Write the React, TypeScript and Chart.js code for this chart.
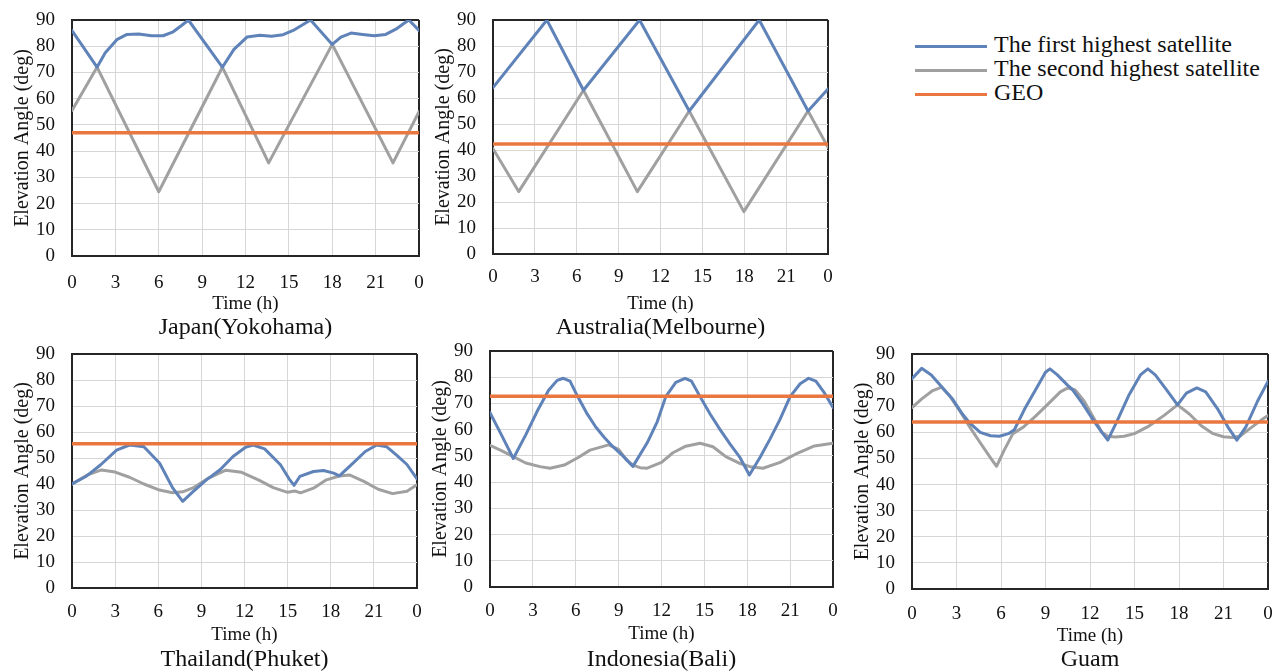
import React, { useEffect, useRef } from 'react';
import { Chart, registerables } from 'chart.js';

Chart.register(...registerables);

const FONT = "'Liberation Serif', 'Times New Roman', serif";
const BLUE = '#5F83B9';
const GRAY = '#A0A0A0';
const ORANGE = '#E9773F';
const GRID = '#D6D6D6';
const FRAME = '#262626';
const TEXT = '#111111';

const SERIES_NAMES = ['The first highest satellite', 'The second highest satellite', 'GEO'];
const X_TICK_LABELS = ['0', '3', '6', '9', '12', '15', '18', '21', '0'];
const Y_TITLE = 'Elevation Angle (deg)';
const X_TITLE = 'Time (h)';
const GEO_T = [0, 24];

// Japan (Yokohama)
const JAPAN_FIRST_T = [0, 1.73, 2.3, 3.1, 3.8, 4.6, 5.5, 6.3, 7.0, 7.6, 8.05, 10.4, 11.2, 12.1, 13.0, 13.8, 14.6, 15.3, 15.9, 16.5, 18.0, 18.6, 19.3, 20.1, 20.9, 21.7, 22.4, 22.9, 23.3, 24];
const JAPAN_FIRST_V = [86, 72, 77.5, 82.5, 84.5, 84.7, 84, 84, 85.5, 88, 90, 72, 78.8, 83.5, 84.2, 83.8, 84.4, 86, 88, 90, 80.7, 83.5, 85, 84.5, 84, 84.5, 86.5, 88.5, 90, 86];
const JAPAN_SECOND_T = [0, 1.73, 6.0, 10.4, 13.6, 18.0, 22.2, 24];
const JAPAN_SECOND_V = [55.5, 72, 24.5, 72, 35.5, 80.7, 35.5, 55];
const JAPAN_GEO_V = [47, 47];

// Australia (Melbourne)
const AUS_FIRST_T = [0, 3.86, 6.48, 10.5, 14.06, 19.07, 22.57, 24];
const AUS_FIRST_V = [64, 90, 63, 90, 55, 90, 55, 63.5];
const AUS_SECOND_T = [0, 1.84, 6.48, 10.34, 14.06, 17.97, 22.57, 24];
const AUS_SECOND_V = [40.5, 24, 63, 24, 55, 16.3, 55, 41];
const AUS_GEO_V = [42.3, 42.3];

// Thailand (Phuket)
const THAI_FIRST_T = [0, 1, 2, 3.1, 4.0, 5.0, 6.1, 7.0, 7.7, 8.4, 9.35, 10.3, 11.2, 12.1, 12.6, 13.4, 14.5, 15.1, 15.45, 15.85, 16.8, 17.5, 18.2, 18.6, 19.55, 20.4, 21.2, 21.9, 22.6, 23.3, 24];
const THAI_FIRST_V = [40, 43, 47.4, 53, 55, 54.3, 48, 38.5, 33.3, 37, 41.6, 45.5, 50.6, 54.2, 55, 53.5, 47.4, 42, 39.5, 42.9, 44.8, 45.2, 44.2, 43.1, 48, 52.5, 55, 54.3, 51, 47.5, 42];
const THAI_SECOND_T = [0, 1, 2.05, 3, 4, 5, 6, 7, 7.7, 8.5, 9.5, 10.7, 11.8, 13, 14, 15, 15.5, 15.9, 16.8, 17.7, 18.6, 19.3, 20.3, 21.3, 22.3, 23.3, 24];
const THAI_SECOND_V = [40, 43.3, 45.4, 44.6, 42.6, 40, 37.8, 36.6, 37, 38.7, 42.3, 45.3, 44.5, 41.5, 38.6, 36.8, 37.3, 36.6, 38.4, 41.6, 43.1, 43.5, 41, 38, 36.3, 37.2, 39.7];
const THAI_GEO_V = [55.5, 55.5];

// Indonesia (Bali)
const BALI_FIRST_T = [0, 0.8, 1.63, 2.5, 3.3, 4.1, 4.7, 5.13, 5.6, 6.1, 6.8, 7.4, 8.0, 8.6, 9.3, 10.0, 11.0, 11.7, 12.3, 13.0, 13.65, 14.1, 14.7, 15.4, 16.1, 16.8, 17.5, 18.15, 18.9, 19.6, 20.3, 21.0, 21.7, 22.3, 22.8, 23.4, 24];
const BALI_FIRST_V = [66.5, 58, 49, 58, 67, 75, 78.8, 79.6, 78.5, 73, 66, 61, 57, 53.5, 50, 46, 55, 63, 72.6, 78, 79.6, 78.5, 72.6, 66, 60, 54.5, 49.3, 42.7, 49.5, 56.5, 64, 72.6, 77.5, 79.6, 78.5, 74, 68.5];
const BALI_SECOND_T = [0, 0.8, 1.63, 2.5, 3.5, 4.2, 5.2, 6.2, 7.0, 8.3, 9.0, 9.56, 10.0, 10.5, 11.0, 12.0, 12.8, 13.7, 14.7, 15.6, 16.5, 17.4, 18.2, 19.1, 20.3, 21.5, 22.7, 24];
const BALI_SECOND_V = [54, 52, 49.7, 47.3, 45.9, 45.3, 46.5, 49.5, 52.2, 54.2, 52.5, 48.4, 46.5, 45.5, 45.3, 47.5, 51.2, 53.7, 54.8, 53.5, 49.7, 47.3, 45.9, 45.3, 47.5, 51, 53.8, 54.8];
const BALI_GEO_V = [72.7, 72.7];

// Guam
const GUAM_FIRST_T = [0, 0.65, 1.3, 2.0, 2.7, 3.4, 3.9, 4.6, 5.3, 5.9, 6.5, 6.9, 7.6, 8.4, 9.0, 9.3, 9.8, 10.5, 10.8, 11.5, 12.3, 12.8, 13.2, 13.8, 14.6, 15.4, 15.9, 16.4, 17.2, 17.9, 18.5, 19.2, 19.8, 20.6, 21.3, 21.9, 22.5, 23.3, 24];
const GUAM_FIRST_V = [80.5, 84.5, 82, 77.5, 73, 67, 63.5, 60, 58.7, 58.5, 59.5, 61, 69, 77, 83, 84.3, 82, 78, 76.5, 71, 64, 60, 57, 64, 74, 82, 84.3, 82, 76, 70.5, 75, 77, 75.5, 69, 62, 57, 62, 72, 79.5];
const GUAM_SECOND_T = [0, 0.7, 1.4, 2.0, 2.6, 3.3, 3.9, 4.6, 5.2, 5.7, 6.2, 6.8, 7.5, 8.3, 9.2, 10.0, 10.5, 11.0, 11.6, 12.3, 12.8, 13.2, 13.7, 14.3, 15.0, 16.0, 17.0, 17.9, 18.7, 19.5, 20.3, 21.0, 21.6, 22.1, 22.8, 23.5, 24];
const GUAM_SECOND_V = [69.5, 73, 76, 77.3, 73.5, 67.5, 62, 56, 51, 47, 53, 59.5, 62, 66, 71, 75.5, 77, 76.2, 72, 65, 60, 58.5, 58.2, 58.5, 59.5, 62.5, 66.5, 70.5, 67, 62.5, 59.5, 58.3, 58, 58.5, 61.5, 64.5, 66.5];
const GUAM_GEO_V = [64, 64];

type Layout = { L: number; T: number; R: number; B: number; tickY: number; timeY: number; subY: number; padR: number };
type PanelCfg = {
  title: string;
  firstT: number[]; firstV: number[];
  secondT: number[]; secondV: number[];
  geoV: number[];
  layout: Layout;
};

const PANELS: PanelCfg[] = [
  { title: 'Japan(Yokohama)', firstT: JAPAN_FIRST_T, firstV: JAPAN_FIRST_V, secondT: JAPAN_SECOND_T, secondV: JAPAN_SECOND_V, geoV: JAPAN_GEO_V,
    layout: { L: 72, T: 20, R: 419, B: 256, tickY: 283, timeY: 304, subY: 328, padR: 12 } },
  { title: 'Australia(Melbourne)', firstT: AUS_FIRST_T, firstV: AUS_FIRST_V, secondT: AUS_SECOND_T, secondV: AUS_SECOND_V, geoV: AUS_GEO_V,
    layout: { L: 493, T: 20, R: 828, B: 254, tickY: 277, timeY: 304, subY: 328, padR: 12 } },
  { title: 'Thailand(Phuket)', firstT: THAI_FIRST_T, firstV: THAI_FIRST_V, secondT: THAI_SECOND_T, secondV: THAI_SECOND_V, geoV: THAI_GEO_V,
    layout: { L: 72, T: 354, R: 417, B: 588, tickY: 612, timeY: 635, subY: 660, padR: 12 } },
  { title: 'Indonesia(Bali)', firstT: BALI_FIRST_T, firstV: BALI_FIRST_V, secondT: BALI_SECOND_T, secondV: BALI_SECOND_V, geoV: BALI_GEO_V,
    layout: { L: 490, T: 351, R: 833, B: 587, tickY: 611, timeY: 634, subY: 660, padR: 12 } },
  { title: 'Guam', firstT: GUAM_FIRST_T, firstV: GUAM_FIRST_V, secondT: GUAM_SECOND_T, secondV: GUAM_SECOND_V, geoV: GUAM_GEO_V,
    layout: { L: 912, T: 354, R: 1268, B: 589, tickY: 614, timeY: 636, subY: 660, padR: 7 } },
];

const Y_W = 72;
const PAD_TOP = 12;
const PAD_BOTTOM = 2;
const TICK_SIZE = 19;
const XT_SIZE = 19;
const YT_SIZE = 20;
const SUB_SIZE = 24;

function pts(t: number[], v: number[]) {
  return t.map((x, i) => ({ x, y: v[i] }));
}

function geom(l: Layout) {
  const xH = Math.round(l.timeY + (XT_SIZE * 1.2) / 2 - l.B);
  const tickPad = Math.round(l.tickY - l.B - (TICK_SIZE * 1.2) / 2);
  const subPad = Math.max(0, Math.round(l.subY - (l.B + xH) - SUB_SIZE / 2));
  const width = Y_W + (l.R - l.L) + l.padR;
  const height = PAD_TOP + (l.B - l.T) + xH + subPad + SUB_SIZE + PAD_BOTTOM;
  return { xH, tickPad, subPad, width, height, left: l.L - Y_W, top: l.T - PAD_TOP };
}

function zeroPad(s: any) {
  s.paddingTop = 0;
  s.paddingBottom = 0;
  s.paddingLeft = 0;
  s.paddingRight = 0;
}

function Panel({ cfg }: { cfg: PanelCfg }) {
  const ref = useRef<HTMLCanvasElement>(null);
  const g = geom(cfg.layout);

  useEffect(() => {
    if (!ref.current) return;
    const line = (label: string, data: any, color: string, w: number) => ({
      label, data, borderColor: color, backgroundColor: color, borderWidth: w,
      pointRadius: 0, tension: 0, fill: false, borderJoinStyle: 'round' as const, borderCapStyle: 'round' as const,
    });
    const chart = new Chart(ref.current, {
      type: 'line',
      data: {
        datasets: [
          line(SERIES_NAMES[2], pts(GEO_T, cfg.geoV), ORANGE, 3.5),
          line(SERIES_NAMES[0], pts(cfg.firstT, cfg.firstV), BLUE, 3),
          line(SERIES_NAMES[1], pts(cfg.secondT, cfg.secondV), GRAY, 3),
        ],
      },
      options: {
        animation: false,
        responsive: false,
        maintainAspectRatio: false,
        events: [],
        layout: { padding: { left: 0, top: PAD_TOP, right: cfg.layout.padR, bottom: PAD_BOTTOM } },
        plugins: {
          legend: { display: false },
          tooltip: { enabled: false },
          title: {
            display: true,
            text: cfg.title,
            position: 'bottom',
            fullSize: false,
            color: TEXT,
            font: { family: FONT, size: SUB_SIZE, weight: 'normal', lineHeight: 1 },
            padding: { top: g.subPad, bottom: 0 },
          },
        },
        scales: {
          x: {
            type: 'linear',
            min: 0,
            max: 24,
            ticks: {
              stepSize: 3,
              autoSkip: false,
              maxRotation: 0,
              padding: g.tickPad,
              color: TEXT,
              font: { family: FONT, size: TICK_SIZE },
              callback: (_v: any, i: number) => X_TICK_LABELS[i],
            },
            grid: {
              drawTicks: false,
              color: (c: any) => (c.tick && c.tick.value === 24 ? FRAME : GRID),
              lineWidth: (c: any) => (c.tick && c.tick.value === 24 ? 2 : 1),
            },
            border: { display: true, color: FRAME, width: 2 },
            title: {
              display: true,
              text: X_TITLE,
              color: TEXT,
              font: { family: FONT, size: XT_SIZE },
              padding: 0,
            },
            afterFit: (s: any) => {
              s.height = g.xH;
              zeroPad(s);
            },
          },
          y: {
            type: 'linear',
            min: 0,
            max: 90,
            ticks: {
              stepSize: 10,
              padding: 17,
              color: TEXT,
              font: { family: FONT, size: TICK_SIZE },
            },
            grid: {
              drawTicks: false,
              color: (c: any) => (c.tick && c.tick.value === 90 ? FRAME : GRID),
              lineWidth: (c: any) => (c.tick && c.tick.value === 90 ? 2 : 1),
            },
            border: { display: true, color: FRAME, width: 2 },
            title: {
              display: true,
              text: Y_TITLE,
              color: TEXT,
              font: { family: FONT, size: YT_SIZE },
              padding: { top: 11, bottom: 0 },
            },
            afterFit: (s: any) => {
              s.width = Y_W;
              zeroPad(s);
            },
          },
        },
      },
    });
    return () => chart.destroy();
  }, []);

  return (
    <canvas
      ref={ref}
      width={g.width}
      height={g.height}
      style={{ position: 'absolute', left: g.left, top: g.top, width: g.width, height: g.height }}
    />
  );
}

const LEGEND_COLORS = [BLUE, GRAY, ORANGE];
const LEGEND_Y = [46.5, 70.5, 94.5];

function Legend() {
  return (
    <>
      {SERIES_NAMES.map((name, i) => (
        <React.Fragment key={name}>
          <div
            style={{
              position: 'absolute', left: 915, top: LEGEND_Y[i] - 1.5, width: 72, height: 3,
              background: LEGEND_COLORS[i],
            }}
          />
          <div
            style={{
              position: 'absolute', left: 994, top: LEGEND_Y[i] - 15, fontFamily: FONT, fontSize: 24,
              lineHeight: '24px', whiteSpace: 'nowrap', color: TEXT,
            }}
          >
            {name}
          </div>
        </React.Fragment>
      ))}
    </>
  );
}

export default function App() {
  return (
    <div
      style={{
        position: 'absolute', left: 0, top: 0, width: 1275, height: 672, overflow: 'hidden',
        background: '#ffffff',
      }}
    >
      {PANELS.map((p) => (
        <Panel key={p.title} cfg={p} />
      ))}
      <Legend />
    </div>
  );
}
